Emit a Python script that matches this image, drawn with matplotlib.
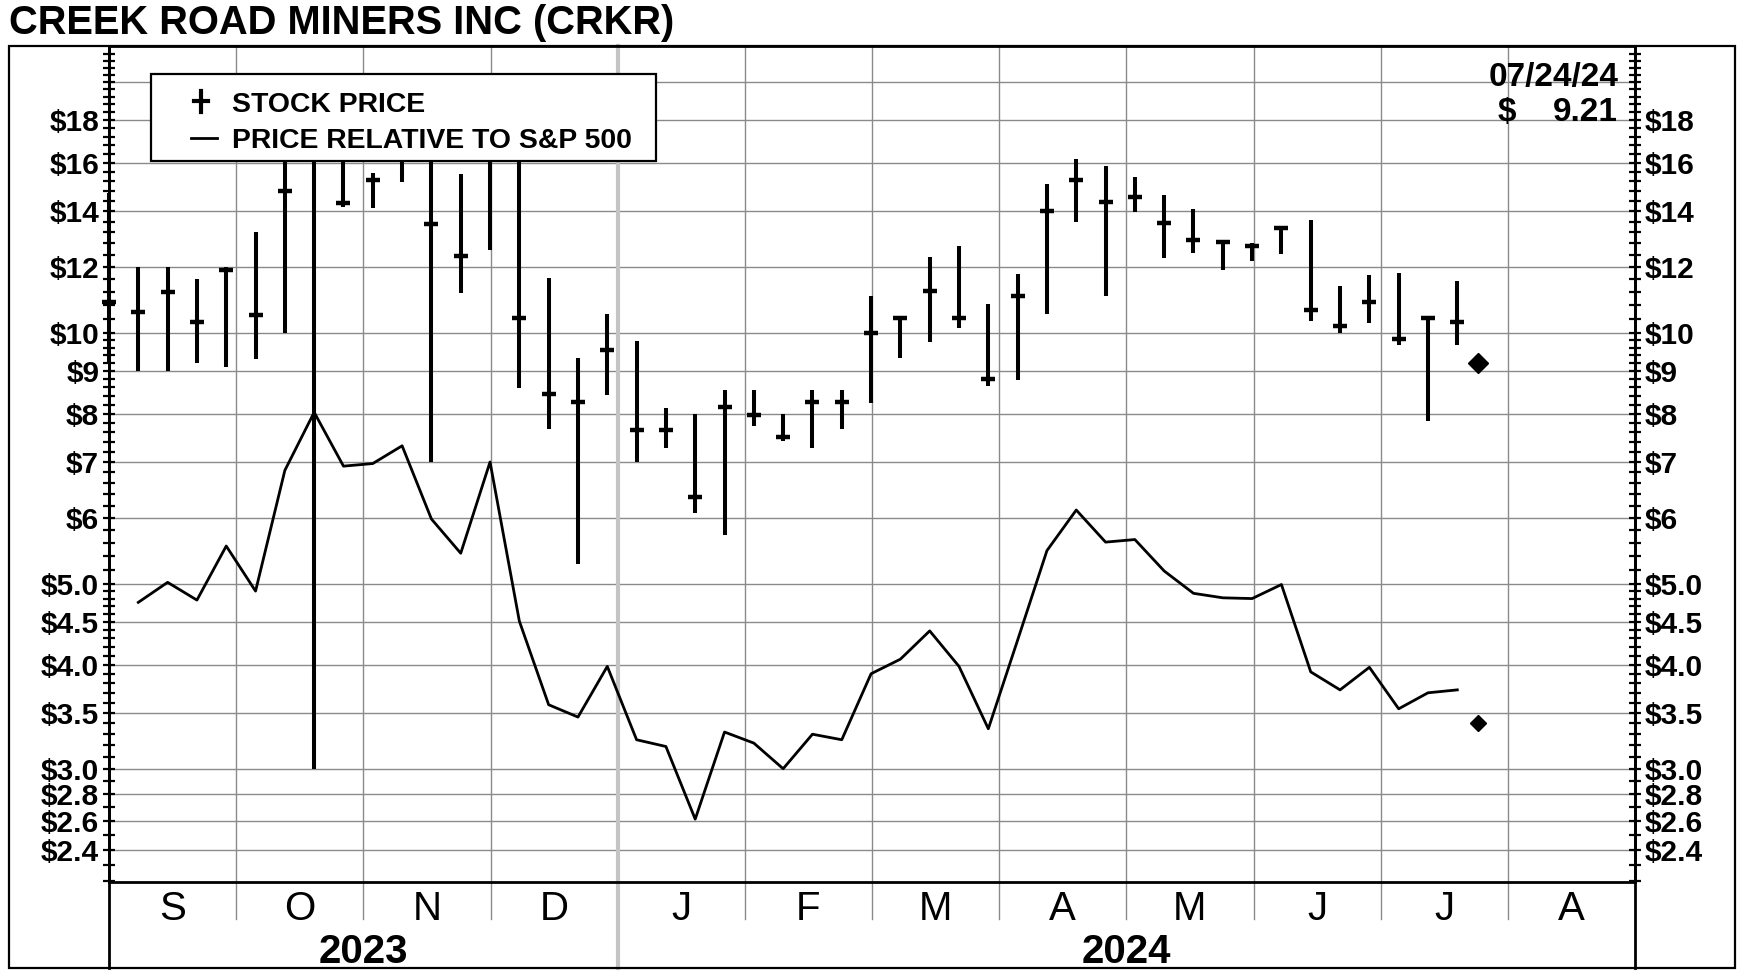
import numpy as np
import pandas as pd
import matplotlib
matplotlib.use("Agg")
import matplotlib.pyplot as plt
from matplotlib.patches import Rectangle
from matplotlib.lines import Line2D
from matplotlib.ticker import FixedLocator, NullFormatter

plt.rcParams['font.family'] = ['Liberation Sans', 'DejaVu Sans']

# weekly bars, Fridays 01 Sep 2023 .. 19 Jul 2024
week_dates = pd.date_range("2023-09-01", "2024-07-19", freq="W-FRI")
high = [14.7, 12.0, 12.0, 11.6, 12.0, 13.2, 19.0, 19.5, 18.5, 15.56,
        19.0, 19.0, 15.5, 18.5, 18.0, 11.62, 9.33, 10.53, 9.78, 8.12,
        8.0, 8.54, 8.54, 8.0, 8.54, 8.54, 11.06, 10.43, 12.33, 12.7,
        10.82, 11.76, 15.09, 16.15, 15.85, 15.37, 14.63, 14.07, 12.89, 12.81,
        13.42, 13.64, 11.37, 11.72, 11.79, 10.42, 11.55]
low = [9.2, 9.0, 9.0, 9.2, 9.1, 9.3, 10.0, 3.0, 14.15, 14.1,
       15.18, 7.0, 11.17, 12.56, 8.59, 7.67, 5.28, 8.43, 7.0, 7.27,
       6.08, 5.72, 7.73, 7.41, 7.27, 7.67, 8.24, 9.33, 9.74, 10.14,
       8.64, 8.78, 10.53, 13.59, 11.06, 13.98, 12.28, 12.46, 11.88, 12.2,
       12.44, 10.33, 10.0, 10.27, 9.68, 7.83, 9.66]
close = [10.9, 10.6, 11.2, 10.3, 11.9, 10.5, 14.8, 17.5, 14.3, 15.24,
         17.0, 13.5, 12.38, 17.0, 10.43, 8.45, 8.25, 9.54, 7.64, 7.64,
         6.35, 8.15, 7.97, 7.51, 8.25, 8.25, 10.0, 10.43, 11.22, 10.42,
         8.8, 11.06, 14.01, 15.24, 14.37, 14.54, 13.56, 12.94, 12.85, 12.7,
         13.36, 10.66, 10.2, 10.88, 9.84, 10.42, 10.31]
# price relative to S&P 500 (from the second week on)
relative = [4.75, 5.02, 4.78, 5.55, 4.9, 6.84, 8.03, 6.92, 6.97, 7.32,
            5.98, 5.44, 7.0, 4.51, 3.58, 3.46, 3.98, 3.25, 3.19, 2.61,
            3.32, 3.22, 3.0, 3.3, 3.25, 3.9, 4.06, 4.39, 3.98, 3.35,
            4.28, 5.48, 6.13, 5.61, 5.65, 5.18, 4.87, 4.81, 4.8, 4.99,
            3.92, 3.73, 3.97, 3.54, 3.7, 3.73]
last_date = pd.Timestamp("2024-07-24")
last_price = 9.21
last_relative = 3.40

months = ["S", "O", "N", "D", "J", "F", "M", "A", "M", "J", "J", "A"]
years = ["2023", "2024"]
price_ticks = [18, 16, 14, 12, 10, 9, 8, 7, 6, 5.0, 4.5, 4.0, 3.5, 3.0, 2.8, 2.6, 2.4]
price_labels = ["$18", "$16", "$14", "$12", "$10", "$9", "$8", "$7", "$6",
                "$5.0", "$4.5", "$4.0", "$3.5", "$3.0", "$2.8", "$2.6", "$2.4"]

W, H = 1744, 976
DAYS_PER_MONTH = 30.37
start = pd.Timestamp("2023-09-01")


def fx(x):
    return x / W


def fy(y):
    return 1 - y / H


def xpos(d):
    return (d - start).days / DAYS_PER_MONTH


x_bars = np.array([xpos(d) for d in week_dates])

fig = plt.figure(figsize=(W / 100, H / 100), dpi=100)
ax_left, ax_right, ax_top, ax_bot = 109, 1635, 45.6, 882
ax = fig.add_axes([fx(ax_left), fy(ax_bot), (ax_right - ax_left) / W, (ax_bot - ax_top) / H])
ax.set_yscale('log')
ax.set_ylim(2.194, 22.11)
ax.set_xlim(0, 12)

grid_c = '#8a8a8a'
for v in price_ticks + [20]:
    ax.axhline(v, color=grid_c, lw=1.0, zorder=1)
for i in range(1, 12):
    if i == 4:
        continue
    ax.axvline(i, color=grid_c, lw=1.0, zorder=1)

xt = ax.get_xaxis_transform()
frame_bot = -(967.6 - ax_bot) / (ax_bot - ax_top)
sep_bot = -(919 - ax_bot) / (ax_bot - ax_top)
# year divider
ax.plot([4, 4], [frame_bot, 1], transform=xt, color='#c4c4c4', lw=3, clip_on=False, zorder=1)
# month separators below the axis
for i in range(1, 12):
    if i != 4:
        ax.plot([i, i], [sep_bot, 0], transform=xt, color=grid_c, lw=1.0, clip_on=False)
# axis lines running to the frame bottom
for xv in (0, 12):
    ax.plot([xv, xv], [frame_bot, 1], transform=xt, color='black', lw=2, clip_on=False, zorder=6)

# stock price bars
ax.vlines(x_bars, low, high, color='black', lw=2.9, zorder=7, clip_on=False)
ax.plot(x_bars, close, ls='none', marker='_', ms=10.5, mew=3.2, color='black', zorder=7, clip_on=False)
# relative line
ax.plot(x_bars[1:], relative, color='black', lw=2.0, zorder=3)
ax.plot([xpos(last_date)], [last_price], marker='D', ms=10, color='black', ls='none', zorder=4)
ax.plot([xpos(last_date)], [last_relative], marker='D', ms=8.5, color='black', ls='none', zorder=4)

for s in ax.spines.values():
    s.set_linewidth(2)
    s.set_color('black')

minor = np.concatenate([np.arange(2.2, 5.0, 0.1), np.arange(5.0, 10.0, 0.2), np.arange(10.0, 22.0, 0.4)])
ax.yaxis.set_major_locator(FixedLocator(price_ticks))
ax.yaxis.set_minor_locator(FixedLocator(minor))
ax.yaxis.set_minor_formatter(NullFormatter())
ax.set_yticklabels(price_labels)
ax.tick_params(axis='y', which='both', direction='inout', length=8, width=1.6,
               left=True, right=True, labelleft=True, labelright=True,
               labelsize=21.5, pad=3)
for t in ax.yaxis.get_major_ticks():
    t.label1.set_fontweight('bold')
    t.label2.set_fontweight('bold')
ax.set_xticks([])

month_base = -(919.5 - ax_bot) / (ax_bot - ax_top)
for i, m in enumerate(months):
    ax.text(i + 0.5, month_base, m, transform=xt, ha='center', va='baseline',
            fontsize=29, family=['Liberation Sans Narrow', 'Liberation Sans'])
year_base = -(963 - ax_bot) / (ax_bot - ax_top)
ax.text(2, year_base, years[0], transform=xt, ha='center', va='baseline', fontsize=29, fontweight='bold')
ax.text(8, year_base, years[1], transform=xt, ha='center', va='baseline', fontsize=29, fontweight='bold')

# title
fig.text(fx(9), fy(34), "CREEK ROAD MINERS INC (CRKR)", fontsize=28.7, fontweight='bold',
         ha='left', va='baseline')

# outer frame
fig.add_artist(Rectangle((fx(9), fy(967.6)), (1735 - 9) / W, (967.6 - 45.6) / H,
                         transform=fig.transFigure, fill=False, ec='black', lw=1.6, zorder=10))

# last price box text
fig.text(fx(1618), fy(86), last_date.strftime("%m/%d/%y"), fontsize=24, fontweight='bold',
         ha='right', va='baseline', zorder=11)
fig.text(fx(1498), fy(121), "$", fontsize=24, fontweight='bold', ha='left', va='baseline', zorder=11)
fig.text(fx(1618), fy(121), f"{last_price:.2f}", fontsize=24, fontweight='bold',
         ha='right', va='baseline', zorder=11)

# legend
fig.add_artist(Rectangle((fx(151), fy(161.3)), (656 - 151) / W, (161.3 - 74.5) / H,
                         transform=fig.transFigure, fc='white', ec='black', lw=1.6, zorder=12))
fig.add_artist(Line2D([fx(201), fx(201)], [fy(91), fy(112)], transform=fig.transFigure,
                      color='black', lw=3.0, zorder=13))
fig.add_artist(Line2D([fx(194), fx(208)], [fy(101), fy(101)], transform=fig.transFigure,
                      color='black', lw=3.0, zorder=13))
fig.add_artist(Line2D([fx(191), fx(217)], [fy(138), fy(138)], transform=fig.transFigure,
                      color='black', lw=2.0, zorder=13))
fig.text(fx(232), fy(102), "STOCK PRICE", fontsize=20.4, fontweight='bold',
         ha='left', va='center_baseline', zorder=13)
fig.text(fx(232), fy(138), "PRICE RELATIVE TO S&P 500", fontsize=20.4, fontweight='bold',
         ha='left', va='center_baseline', zorder=13)

fig.savefig("out.png", dpi=100)
